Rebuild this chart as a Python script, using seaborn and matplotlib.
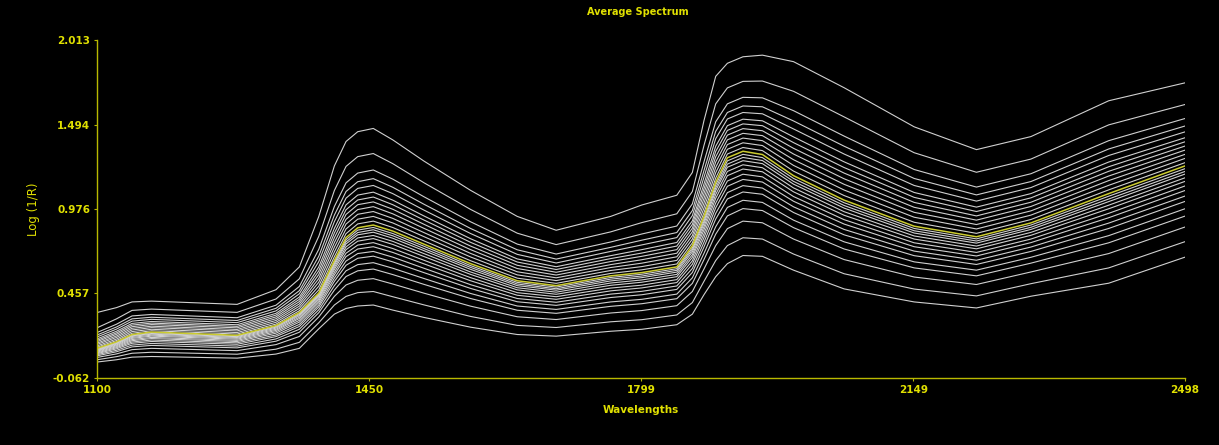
import matplotlib
matplotlib.use("Agg")
import matplotlib.pyplot as plt
import pandas as pd
import seaborn as sns

# --------------------------------------------------
# Data
# one list per wavelength: the 26 spectra from top to bottom
# --------------------------------------------------

wavelengths = [1100, 1125, 1145, 1170, 1280, 1330, 1360, 1385, 1405, 1420, 1435,
               1455, 1480, 1520, 1580, 1640, 1690, 1760, 1800, 1845, 1865, 1880,
               1895, 1910, 1930, 1955, 1995, 2060, 2150, 2230, 2300, 2400, 2498]

average_spectrum = [0.12, 0.16, 0.205, 0.22, 0.20, 0.26, 0.34, 0.46, 0.66, 0.80, 0.86,
                    0.877, 0.84, 0.76, 0.64, 0.535, 0.505, 0.565, 0.585, 0.62, 0.75, 0.93,
                    1.14, 1.29, 1.33, 1.31, 1.18, 1.03, 0.87, 0.805, 0.89, 1.07, 1.24]

col_1100 = [0.34, 0.246, 0.217, 0.202, 0.19, 0.178, 0.169, 0.161, 0.152, 0.144, 0.135, 0.127, 0.117,
            0.115, 0.112, 0.109, 0.106, 0.102, 0.097, 0.092, 0.087, 0.081, 0.074, 0.064, 0.05, 0.036]
col_1125 = [0.37, 0.301, 0.268, 0.251, 0.238, 0.225, 0.215, 0.206, 0.196, 0.187, 0.177, 0.168, 0.157,
            0.153, 0.15, 0.146, 0.141, 0.136, 0.13, 0.124, 0.117, 0.108, 0.099, 0.086, 0.069, 0.05]
col_1145 = [0.405, 0.353, 0.319, 0.301, 0.287, 0.273, 0.263, 0.253, 0.243, 0.233, 0.223, 0.213, 0.201,
            0.197, 0.193, 0.187, 0.181, 0.174, 0.167, 0.159, 0.151, 0.14, 0.129, 0.112, 0.09, 0.066]
col_1170 = [0.41, 0.361, 0.328, 0.311, 0.298, 0.285, 0.275, 0.266, 0.256, 0.247, 0.237, 0.228, 0.216,
            0.211, 0.207, 0.201, 0.195, 0.187, 0.18, 0.171, 0.162, 0.15, 0.138, 0.12, 0.096, 0.07]
col_1280 = [0.39, 0.341, 0.308, 0.291, 0.278, 0.265, 0.255, 0.246, 0.236, 0.227, 0.217, 0.208, 0.196,
            0.192, 0.187, 0.182, 0.176, 0.169, 0.162, 0.154, 0.145, 0.134, 0.123, 0.106, 0.084, 0.06]
col_1330 = [0.48, 0.423, 0.385, 0.366, 0.35, 0.335, 0.324, 0.313, 0.302, 0.291, 0.28, 0.269, 0.255,
            0.25, 0.244, 0.237, 0.23, 0.222, 0.213, 0.202, 0.192, 0.178, 0.164, 0.143, 0.115, 0.085]
col_1360 = [0.62, 0.547, 0.50, 0.474, 0.455, 0.435, 0.421, 0.407, 0.393, 0.379, 0.365, 0.351, 0.333,
            0.327, 0.32, 0.311, 0.303, 0.292, 0.281, 0.267, 0.254, 0.237, 0.219, 0.193, 0.157, 0.12]
col_1385 = [0.93, 0.808, 0.728, 0.686, 0.653, 0.62, 0.596, 0.573, 0.549, 0.526, 0.502, 0.479, 0.453,
            0.447, 0.44, 0.431, 0.423, 0.412, 0.401, 0.387, 0.374, 0.357, 0.339, 0.313, 0.277, 0.24]
col_1405 = [1.24, 1.089, 0.991, 0.938, 0.898, 0.857, 0.828, 0.799, 0.77, 0.741, 0.712, 0.683, 0.65,
            0.64, 0.63, 0.617, 0.604, 0.587, 0.571, 0.551, 0.531, 0.505, 0.478, 0.439, 0.386, 0.33]
col_1420 = [1.39, 1.237, 1.136, 1.083, 1.042, 1.001, 0.971, 0.942, 0.912, 0.883, 0.853, 0.824, 0.787,
            0.774, 0.761, 0.743, 0.726, 0.704, 0.683, 0.656, 0.63, 0.596, 0.561, 0.509, 0.439, 0.365]
col_1435 = [1.45, 1.297, 1.196, 1.143, 1.102, 1.061, 1.031, 1.002, 0.972, 0.943, 0.913, 0.884, 0.846,
            0.831, 0.817, 0.798, 0.778, 0.754, 0.73, 0.702, 0.673, 0.634, 0.596, 0.538, 0.462, 0.38]
col_1455 = [1.47, 1.316, 1.215, 1.162, 1.12, 1.079, 1.049, 1.019, 0.99, 0.96, 0.93, 0.901, 0.862,
            0.848, 0.833, 0.813, 0.794, 0.769, 0.744, 0.715, 0.686, 0.646, 0.607, 0.548, 0.469, 0.386]
col_1480 = [1.40, 1.254, 1.159, 1.109, 1.07, 1.03, 1.002, 0.974, 0.946, 0.918, 0.89, 0.862, 0.825,
            0.811, 0.796, 0.777, 0.758, 0.733, 0.709, 0.68, 0.651, 0.612, 0.573, 0.515, 0.437, 0.355]
col_1520 = [1.27, 1.137, 1.051, 1.005, 0.969, 0.933, 0.908, 0.882, 0.857, 0.831, 0.806, 0.78, 0.747,
            0.733, 0.72, 0.702, 0.684, 0.661, 0.639, 0.612, 0.585, 0.549, 0.513, 0.459, 0.387, 0.31]
col_1580 = [1.09, 0.973, 0.897, 0.856, 0.825, 0.793, 0.771, 0.748, 0.726, 0.703, 0.681, 0.658, 0.628,
            0.617, 0.605, 0.589, 0.574, 0.554, 0.535, 0.511, 0.488, 0.457, 0.426, 0.379, 0.316, 0.25]
col_1640 = [0.93, 0.827, 0.76, 0.725, 0.697, 0.669, 0.65, 0.63, 0.61, 0.59, 0.571, 0.551, 0.525,
            0.515, 0.505, 0.492, 0.479, 0.462, 0.446, 0.426, 0.406, 0.38, 0.354, 0.314, 0.261, 0.205]
col_1690 = [0.845, 0.757, 0.699, 0.668, 0.644, 0.621, 0.604, 0.587, 0.57, 0.553, 0.536, 0.519, 0.496,
            0.486, 0.477, 0.465, 0.452, 0.437, 0.421, 0.403, 0.384, 0.359, 0.335, 0.297, 0.248, 0.195]
col_1760 = [0.93, 0.835, 0.773, 0.74, 0.715, 0.689, 0.671, 0.653, 0.634, 0.616, 0.598, 0.58, 0.555,
            0.545, 0.534, 0.521, 0.507, 0.49, 0.473, 0.453, 0.432, 0.405, 0.378, 0.337, 0.283, 0.225]
col_1800 = [1.00, 0.892, 0.822, 0.784, 0.755, 0.726, 0.705, 0.685, 0.664, 0.643, 0.622, 0.602, 0.575,
            0.564, 0.554, 0.54, 0.526, 0.508, 0.491, 0.47, 0.449, 0.421, 0.394, 0.352, 0.296, 0.237]
col_1845 = [1.06, 0.946, 0.871, 0.831, 0.80, 0.77, 0.748, 0.726, 0.704, 0.682, 0.66, 0.638, 0.609,
            0.599, 0.588, 0.574, 0.56, 0.542, 0.524, 0.503, 0.482, 0.453, 0.425, 0.382, 0.325, 0.265]
col_1865 = [1.20, 1.083, 1.007, 0.966, 0.935, 0.903, 0.881, 0.858, 0.836, 0.813, 0.791, 0.768, 0.737,
            0.725, 0.712, 0.695, 0.679, 0.658, 0.637, 0.611, 0.586, 0.553, 0.519, 0.469, 0.401, 0.33]
col_1880 = [1.52, 1.367, 1.266, 1.213, 1.172, 1.131, 1.101, 1.072, 1.042, 1.013, 0.983, 0.954, 0.916,
            0.901, 0.887, 0.868, 0.848, 0.824, 0.80, 0.772, 0.743, 0.704, 0.666, 0.608, 0.532, 0.45]
col_1895 = [1.79, 1.621, 1.511, 1.452, 1.407, 1.361, 1.329, 1.296, 1.264, 1.231, 1.199, 1.166, 1.123,
            1.105, 1.088, 1.065, 1.041, 1.012, 0.983, 0.949, 0.914, 0.867, 0.821, 0.751, 0.659, 0.56]
col_1910 = [1.87, 1.719, 1.621, 1.568, 1.528, 1.487, 1.458, 1.429, 1.40, 1.371, 1.342, 1.313, 1.271,
            1.251, 1.232, 1.206, 1.18, 1.147, 1.115, 1.076, 1.037, 0.985, 0.933, 0.855, 0.751, 0.64]
col_1930 = [1.91, 1.759, 1.661, 1.608, 1.568, 1.527, 1.498, 1.469, 1.44, 1.411, 1.382, 1.353, 1.311,
            1.292, 1.272, 1.247, 1.221, 1.189, 1.157, 1.119, 1.08, 1.029, 0.978, 0.901, 0.799, 0.69]
col_1955 = [1.92, 1.761, 1.658, 1.603, 1.56, 1.517, 1.487, 1.456, 1.426, 1.395, 1.365, 1.334, 1.291,
            1.273, 1.254, 1.229, 1.204, 1.173, 1.141, 1.104, 1.066, 1.016, 0.966, 0.891, 0.791, 0.685]
col_1995 = [1.88, 1.698, 1.579, 1.516, 1.467, 1.418, 1.383, 1.348, 1.313, 1.278, 1.243, 1.208, 1.163,
            1.145, 1.128, 1.105, 1.081, 1.052, 1.023, 0.989, 0.954, 0.907, 0.861, 0.791, 0.699, 0.60]
col_2060 = [1.72, 1.541, 1.423, 1.361, 1.313, 1.265, 1.23, 1.196, 1.161, 1.127, 1.092, 1.058, 1.014,
            0.997, 0.981, 0.959, 0.937, 0.91, 0.883, 0.85, 0.817, 0.774, 0.73, 0.665, 0.578, 0.485]
col_2150 = [1.48, 1.321, 1.218, 1.163, 1.12, 1.077, 1.047, 1.016, 0.986, 0.955, 0.925, 0.894, 0.856,
            0.842, 0.828, 0.81, 0.791, 0.768, 0.744, 0.717, 0.689, 0.651, 0.614, 0.558, 0.484, 0.405]
col_2230 = [1.34, 1.201, 1.11, 1.062, 1.024, 0.987, 0.96, 0.933, 0.907, 0.88, 0.853, 0.826, 0.792,
            0.779, 0.766, 0.748, 0.731, 0.709, 0.687, 0.661, 0.635, 0.60, 0.565, 0.512, 0.442, 0.368]
col_2300 = [1.42, 1.282, 1.192, 1.144, 1.107, 1.07, 1.044, 1.017, 0.991, 0.964, 0.938, 0.911, 0.877,
            0.863, 0.85, 0.832, 0.814, 0.791, 0.769, 0.742, 0.715, 0.679, 0.643, 0.589, 0.517, 0.44]
col_2400 = [1.64, 1.492, 1.395, 1.344, 1.304, 1.264, 1.235, 1.207, 1.178, 1.15, 1.121, 1.093, 1.054,
            1.037, 1.021, 0.999, 0.977, 0.949, 0.922, 0.889, 0.856, 0.812, 0.768, 0.702, 0.614, 0.52]
col_2498 = [1.75, 1.617, 1.531, 1.485, 1.449, 1.413, 1.388, 1.362, 1.337, 1.311, 1.286, 1.26, 1.223,
            1.206, 1.19, 1.167, 1.145, 1.117, 1.089, 1.055, 1.022, 0.977, 0.932, 0.865, 0.775, 0.68]

x_ticks = [1100, 1450, 1799, 2149, 2498]
y_ticks = [-0.062, 0.457, 0.976, 1.494, 2.013]

# --------------------------------------------------
# Long table for seaborn
# --------------------------------------------------

columns = [
    col_1100, col_1125, col_1145, col_1170, col_1280, col_1330, col_1360, col_1385,
    col_1405, col_1420, col_1435, col_1455, col_1480, col_1520, col_1580, col_1640,
    col_1690, col_1760, col_1800, col_1845, col_1865, col_1880, col_1895, col_1910,
    col_1930, col_1955, col_1995, col_2060, col_2150, col_2230, col_2300, col_2400,
    col_2498,
]

rows = []
for w, col in zip(wavelengths, columns):
    for sample, v in enumerate(col):
        rows.append({"sample": sample, "wavelength": w, "log_1_r": v})
df = pd.DataFrame(rows)

avg_df = pd.DataFrame({"wavelength": wavelengths, "log_1_r": average_spectrum})

# --------------------------------------------------
# Plot
# --------------------------------------------------

sns.set_theme(style="ticks")
plt.rcParams["font.family"] = ["DejaVu Sans"]

yellow = "#e0e000"
axis_yellow = "#b8b800"

fig = plt.figure(figsize=(12.19, 4.45), dpi=100, facecolor="black")
ax = fig.add_axes([97 / 1219, 1 - 378 / 445, 1088 / 1219, 338 / 445])
ax.set_facecolor("black")

sns.lineplot(
    data=df, x="wavelength", y="log_1_r", units="sample", estimator=None,
    color="#d0d0d0", linewidth=0.8, ax=ax, legend=False,
)
sns.lineplot(
    data=avg_df, x="wavelength", y="log_1_r",
    color="#cccc30", linewidth=1.1, ax=ax,
)

ax.set_xlim(1100, 2498)
ax.set_ylim(-0.062, 2.013)
ax.set_xticks(x_ticks)
ax.set_xticklabels([str(t) for t in x_ticks])
ax.set_yticks(y_ticks)
ax.set_yticklabels([f"{t:.3f}" for t in y_ticks])

for side in ["top", "right"]:
    ax.spines[side].set_visible(False)
for side in ["left", "bottom"]:
    ax.spines[side].set_color(axis_yellow)
    ax.spines[side].set_linewidth(1.0)

ax.tick_params(axis="both", colors=axis_yellow, length=2, width=0.8, pad=3)
for lab in ax.get_xticklabels() + ax.get_yticklabels():
    lab.set_color(yellow)
    lab.set_fontsize(7.5)
    lab.set_fontweight("bold")

ax.set_xlabel("Wavelengths", color=yellow, fontsize=7.5, fontweight="bold")
ax.xaxis.set_label_coords(0.5, -0.08)
ax.set_ylabel("Log (1/R)", color=yellow, fontsize=8.5)
ax.yaxis.set_label_coords(-0.052, 0.5)

ax.text(0.497, 1.083, "Average Spectrum", transform=ax.transAxes,
        ha="center", va="center", color=yellow, fontsize=7, fontweight="bold")

plt.savefig("out.png", dpi=100, facecolor="black")
plt.close()
